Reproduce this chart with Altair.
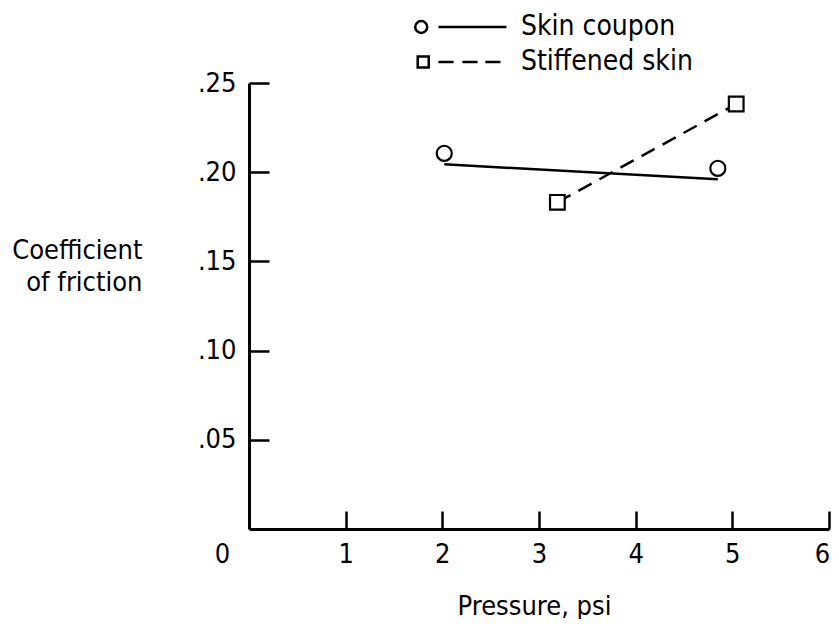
import altair as alt
import pandas as pd

# ---- data ----
series_names = ["Skin coupon", "Stiffened skin"]
coupon_x = [2.02, 4.85]
coupon_y = [0.2106, 0.2022]
coupon_fit_x = [2.02, 4.85]
coupon_fit_y = [0.2044, 0.1960]
stiff_x = [3.19, 5.04]
stiff_y = [0.1831, 0.2382]
x_ticks = [0, 1, 2, 3, 4, 5, 6]
x_minor = [1, 2, 3, 4, 5, 6]
y_ticks = [0.05, 0.10, 0.15, 0.20, 0.25]

coupon_df = pd.DataFrame({"x": coupon_x, "y": coupon_y})
fit_df = pd.DataFrame({"x": coupon_fit_x, "y": coupon_fit_y})
stiff_df = pd.DataFrame({"x": stiff_x, "y": stiff_y})
legend_df = pd.DataFrame({"x": [0, 0], "y": [0, 0], "series": series_names})

W, H = 580, 446
FONT = "DejaVu Sans Condensed, Liberation Sans Narrow, DejaVu Sans, sans-serif"
FS = 27

xs = alt.Scale(domain=[0, 6], nice=False, zero=False)
ys = alt.Scale(domain=[0, 0.25], nice=False, zero=False)

# legend symbols: marker + line sample (unit coords, 1 = sqrt(size)/2 px)
circle_path = ("M -0.984 0 A 0.13 0.13 0 1 0 -0.724 0 A 0.13 0.13 0 1 0 -0.984 0 Z "
               "M -0.48 0 L 1 0")
square_path = ("M -0.93 -0.12 L -0.69 -0.12 L -0.69 0.12 L -0.93 0.12 Z "
               "M -0.48 0 L -0.15 0 M 0.04 0 L 0.37 0 M 0.54 0 L 0.87 0")

fit = alt.Chart(fit_df).mark_line(color="black", strokeWidth=2.5).encode(
    x=alt.X("x:Q", scale=xs, axis=alt.Axis(
        orient="bottom", values=x_ticks, format="d", ticks=False, tickSize=0,
        domainWidth=3, domainColor="black", grid=False,
        labelFont=FONT, labelFontSize=FS, labelColor="black", labelPadding=12,
        labelFlush=False, labelOverlap=False,
        labelOffset={"condition": [{"test": "datum.value === 0", "value": -27},
                                   {"test": "datum.value === 6", "value": -7}],
                     "value": 0},
        title="Pressure, psi", titleFont=FONT, titleFontSize=FS, titleFontWeight="normal",
        titleColor="black", titleX=285, titleY=85, titleBaseline="alphabetic")),
    y=alt.Y("y:Q", scale=ys, axis=alt.Axis(
        orient="left", values=y_ticks,
        labelExpr="replace(format(datum.value, '.2f'), '0.', '.')",
        ticks=False, tickSize=0, domainWidth=3, domainColor="black", grid=False,
        labelFont=FONT, labelFontSize=FS, labelColor="black", labelPadding=13,
        labelFlush=False, labelOverlap=False,
        title=["Coefficient", "of friction"], titleAngle=0, titleAlign="right",
        titleX=-107, titleY=175, titleBaseline="alphabetic", titleLineHeight=32,
        titleFont=FONT, titleFontSize=FS, titleFontWeight="normal", titleColor="black")),
)

dashed = alt.Chart(stiff_df).mark_line(color="black", strokeWidth=2.5, strokeDash=[15, 9]).encode(
    x=alt.X("x:Q", scale=xs, axis=alt.Axis(
        orient="top", offset=-H, values=x_minor, labels=False, domain=False,
        ticks=True, tickSize=18, tickWidth=2.5, tickColor="black", title=None, grid=False)),
    y=alt.Y("y:Q", scale=ys, axis=alt.Axis(
        orient="right", offset=-W, values=y_ticks, labels=False, domain=False,
        ticks=True, tickSize=20, tickWidth=2.5, tickColor="black", title=None, grid=False)),
)

circles = alt.Chart(coupon_df).mark_point(
    shape="circle", filled=True, fill="white", stroke="black", strokeWidth=2.2,
    size=227, opacity=1).encode(
    x=alt.X("x:Q", scale=xs, axis=None),
    y=alt.Y("y:Q", scale=ys, axis=None),
)

squares = alt.Chart(stiff_df).mark_point(
    shape="square", filled=True, fill="white", stroke="black", strokeWidth=2.2,
    size=216, opacity=1).encode(
    x=alt.X("x:Q", scale=xs, axis=None),
    y=alt.Y("y:Q", scale=ys, axis=None),
)

legend_layer = alt.Chart(legend_df).transform_filter("false").mark_point(
    filled=False, color="black").encode(
    x=alt.X("x:Q", scale=xs, axis=None),
    y=alt.Y("y:Q", scale=ys, axis=None),
    shape=alt.Shape("series:N",
                    scale=alt.Scale(domain=series_names, range=[circle_path, square_path]),
                    legend=alt.Legend(
                        orient="none", legendX=164, legendY=-72.5, direction="vertical",
                        title=None, symbolSize=8464, symbolStrokeWidth=2.5,
                        symbolStrokeColor="black", symbolFillColor="white",
                        symbolOpacity=1, clipHeight=33, rowPadding=2,
                        labelFont=FONT, labelFontSize=28, labelColor="black",
                        labelOffset=13, padding=0, labelLimit=0)),
)

chart = alt.layer(fit, dashed, circles, squares, legend_layer).resolve_axis(
    x="independent", y="independent"
).properties(
    width=W, height=H,
    autosize=alt.AutoSizeParams(type="none"),
    padding={"left": 241, "top": 75, "right": 2, "bottom": 90},
    background="white",
).configure_view(stroke=None)

chart.save("out.html", embed_options={"renderer": "svg", "actions": False})
